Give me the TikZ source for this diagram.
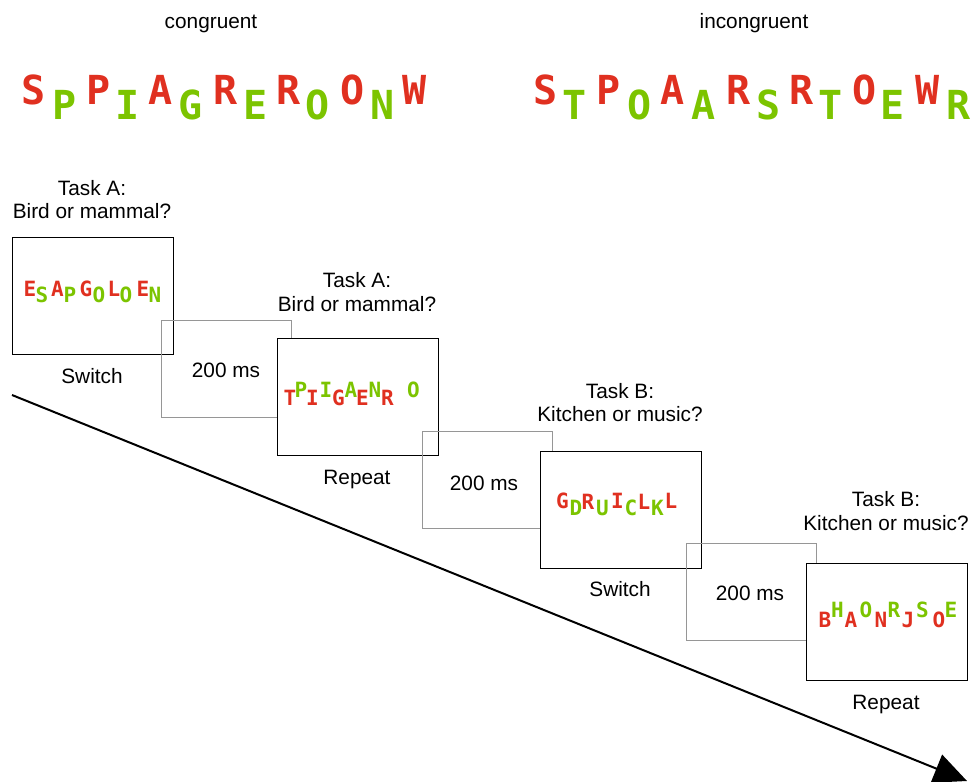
\documentclass[tikz,border=0pt]{standalone}
\usepackage{fontspec}
\setmainfont{Liberation Sans}
\newfontfamily\lettermono{DejaVu Sans Mono}
\usetikzlibrary{arrows.meta}
\definecolor{lred}{RGB}{224,48,32}
\definecolor{lgreen}{RGB}{124,196,0}
\definecolor{dgray}{RGB}{150,150,150}
\begin{document}
\begin{tikzpicture}[x=1pt,y=-1pt,
  lbl/.style={font=\fontsize{20.8}{24}\selectfont, anchor=base, inner sep=0},
  big/.style={font=\lettermono\bfseries\fontsize{40}{40}\selectfont, anchor=base, inner sep=0},
  small/.style={font=\lettermono\bfseries\fontsize{21}{21}\selectfont, anchor=base, inner sep=0},
  screen/.style={draw=black, line width=1.3pt, fill=white, anchor=north west, minimum width=161pt, minimum height=117pt, inner sep=0},
  delay/.style={draw=dgray, line width=1.3pt, anchor=north west, minimum width=130pt, minimum height=97pt, inner sep=0},
  ]
\useasboundingbox (0,0) rectangle (973,781);
% titles
\node[lbl] (tcong) at (211,29) {congruent};
\node[lbl] (tincong) at (754,29) {incongruent};
% big letters
\foreach \t/\x/\c/\b [count=\i] in {S/34/lred/105, P/65/lgreen/120, P/98.5/lred/105, I/127.5/lgreen/120, A/161/lred/105, G/190.5/lgreen/120, R/225.5/lred/105, E/256/lgreen/120, R/288.5/lred/105, O/317.5/lgreen/120, O/352.5/lred/105, N/382.5/lgreen/120, W/415/lred/105}
  \node[big, text=\c] (cg\i) at (\x,\b) {\t};
\foreach \t/\x/\c/\b [count=\i] in {S/546/lred/105, T/575/lgreen/120, P/609/lred/105, O/639.5/lgreen/120, A/672.5/lred/105, A/704/lgreen/120, R/738.5/lred/105, S/768.5/lgreen/120, R/801.5/lred/105, T/831/lgreen/120, O/864.5/lred/105, E/892.5/lgreen/120, W/927.5/lred/105, R/958.5/lgreen/120}
  \node[big, text=\c] (ic\i) at (\x,\b) {\t};
% screens and delays
\node[screen] (s1) at (12,237) {};
\node[delay] (d1) at (161,320) {};
\node[screen] (s2) at (277,338) {};
\node[delay] (d2) at (422,431) {};
\node[screen] (s3) at (540,451) {};
\node[delay] (d3) at (686,543) {};
\node[screen] (s4) at (806,563) {};
% screen letters
\foreach \t/\x/\c/\b [count=\i] in {E/30/lred/296, S/42/lgreen/302, A/57.5/lred/296, P/70/lgreen/302, G/86/lred/296, O/99/lgreen/302, L/114/lred/296, O/126/lgreen/302, E/143/lred/296, N/155/lgreen/302}
  \node[small, text=\c] (a\i) at (\x,\b) {\t};
\foreach \t/\x/\c/\b [count=\i] in {T/290/lred/405, P/301/lgreen/397, I/312.5/lred/405, I/326/lgreen/397, G/338.5/lred/405, A/351/lgreen/397, E/362.5/lred/405, N/375/lgreen/397, R/387.5/lred/405, O/413.5/lgreen/397}
  \node[small, text=\c] (b\i) at (\x,\b) {\t};
\foreach \t/\x/\c/\b [count=\i] in {G/562.5/lred/508, D/576/lgreen/515, R/588/lred/509, U/602.5/lgreen/515, I/617.5/lred/508, C/631/lgreen/515, L/644/lred/509, K/657.5/lgreen/515, L/671/lred/508}
  \node[small, text=\c] (c\i) at (\x,\b) {\t};
\foreach \t/\x/\c/\b [count=\i] in {B/825/lred/627, H/837.5/lgreen/617, A/851/lred/627, O/866/lgreen/617, N/881/lred/627, R/894/lgreen/617, J/908/lred/627, S/922.5/lgreen/617, O/939/lred/627, E/951/lgreen/617}
  \node[small, text=\c] (e\i) at (\x,\b) {\t};
% labels
\node[lbl] (q1a) at (92,195) {Task A:};
\node[lbl] (q1b) at (92,218) {Bird or mammal?};
\node[lbl] (r1) at (92,383) {Switch};
\node[lbl] (q2a) at (357,287) {Task A:};
\node[lbl] (q2b) at (357,311) {Bird or mammal?};
\node[lbl] (r2) at (357,484) {Repeat};
\node[lbl] (q3a) at (620,398) {Task B:};
\node[lbl] (q3b) at (620,421) {Kitchen or music?};
\node[lbl] (r3) at (620,596) {Switch};
\node[lbl] (q4a) at (886,506) {Task B:};
\node[lbl] (q4b) at (886,530) {Kitchen or music?};
\node[lbl] (r4) at (886,709) {Repeat};
\node[lbl] (m1) at (226,377) {200 ms};
\node[lbl] (m2) at (484,490) {200 ms};
\node[lbl] (m3) at (750,600) {200 ms};
% time arrow
\coordinate (tstart) at (12,395);
\coordinate (tend) at (967,781);
\draw[line width=2pt, -{Triangle[length=33pt,width=30pt]}] (tstart) -- (tend);
\end{tikzpicture}
\end{document}
